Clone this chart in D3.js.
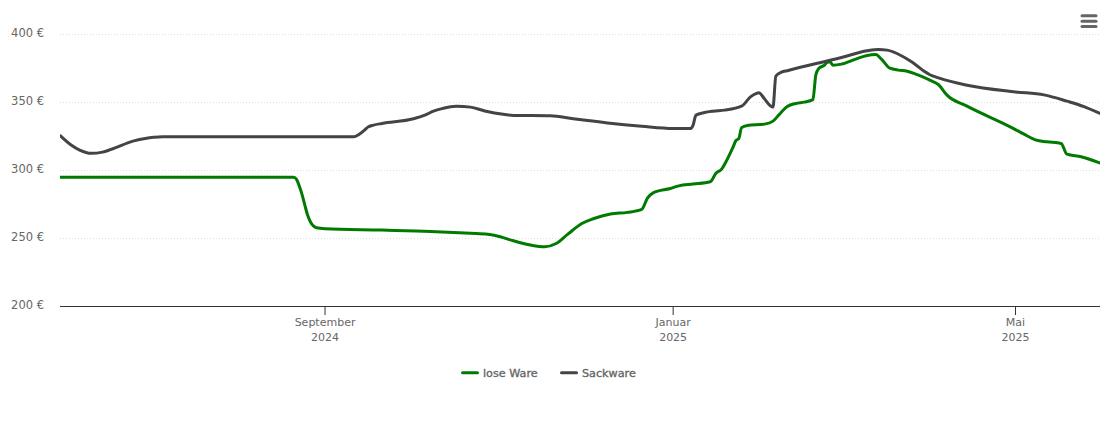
<!DOCTYPE html>
<html>
<head>
<meta charset="utf-8">
<title>Preisentwicklung</title>
<script src="https://d3js.org/d3.v7.min.js"></script>
<style>
    html, body { margin: 0; padding: 0; background: #fff; }
    text { font-family: "DejaVu Sans", sans-serif; font-size: 11px; fill: #666; }
    .yaxis text { font-size: 11.5px; }
    .legend text { font-size: 11.2px; stroke: #666; stroke-width: 0.35px; }
    .grid line { stroke: #dedede; stroke-width: 1; stroke-dasharray: 1 2; }
</style>
</head>
<body>
<svg id="chart" width="1110" height="423"></svg>
<script>
var yTicks = [200, 250, 300, 350, 400]
var xTicks = ["2024-09-01", "2025-01-01", "2025-05-01"]
var xTickLabels = [["September", "2024"], ["Januar", "2025"], ["Mai", "2025"]]
var seriesNames = ["lose Ware", "Sackware"]

var loseDates = ["2024-05-31","2024-08-21","2024-08-22","2024-08-23","2024-08-24","2024-08-25","2024-08-26","2024-08-27","2024-08-28","2024-08-29","2024-09-01","2024-09-21","2024-10-08","2024-10-22","2024-10-28","2024-10-31","2024-11-06","2024-11-12","2024-11-17","2024-11-21","2024-11-25","2024-11-30","2024-12-04","2024-12-10","2024-12-16","2024-12-21","2024-12-23","2024-12-25","2024-12-31","2025-01-03","2025-01-08","2025-01-14","2025-01-16","2025-01-18","2025-01-20","2025-01-22","2025-01-23","2025-01-24","2025-01-25","2025-01-27","2025-02-02","2025-02-05","2025-02-07","2025-02-10","2025-02-13","2025-02-16","2025-02-19","2025-02-20","2025-02-21","2025-02-23","2025-02-24","2025-02-25","2025-02-26","2025-03-01","2025-03-06","2025-03-10","2025-03-13","2025-03-15","2025-03-18","2025-03-21","2025-03-24","2025-03-28","2025-04-01","2025-04-04","2025-04-07","2025-04-14","2025-04-30","2025-05-04","2025-05-08","2025-05-12","2025-05-17","2025-05-19","2025-05-24","2025-05-31"]
var loseValues = [295,295,293.5,288.4,281.9,273.8,266.5,261.7,259.1,257.9,257.2,256.2,255.2,253.8,253.1,252,248.3,245.2,243.9,246.3,253,261,264.5,268,269.2,271.4,279.7,283.6,286.8,288.7,290,291.7,297.9,301,308.4,317.2,322,323.4,331.5,333.1,334.1,336.3,340.7,347,349.3,350.3,352.1,370.1,374.9,377.4,379.4,379.9,377.4,378.2,381.9,384.6,385.3,381.9,375.2,373.8,373,370.1,366.4,363.1,355.4,347.3,331.2,326.7,322.5,321.1,319.9,312,310.1,305.2]

var sackDates = ["2024-05-31","2024-06-04","2024-06-07","2024-06-11","2024-06-15","2024-06-18","2024-06-26","2024-06-30","2024-07-03","2024-07-06","2024-09-11","2024-09-13","2024-09-15","2024-09-16","2024-09-18","2024-09-21","2024-10-02","2024-10-06","2024-10-09","2024-10-12","2024-10-17","2024-10-22","2024-10-27","2024-11-03","2024-11-06","2024-11-19","2024-11-27","2024-12-09","2024-12-21","2025-01-01","2025-01-07","2025-01-08","2025-01-09","2025-01-12","2025-01-15","2025-01-19","2025-01-25","2025-01-28","2025-01-30","2025-01-31","2025-02-02","2025-02-04","2025-02-05","2025-02-06","2025-02-08","2025-02-10","2025-03-01","2025-03-10","2025-03-14","2025-03-17","2025-03-22","2025-03-25","2025-03-27","2025-03-30","2025-04-01","2025-04-04","2025-04-14","2025-05-01","2025-05-11","2025-05-19","2025-05-25","2025-05-31"]
var sackValues = [326,318.7,315,312.6,313.5,315.5,321.8,323.6,324.4,324.8,324.8,326.7,330,331.9,333.4,334.6,338,340.7,343.6,345.5,347.3,346.6,343.8,341.2,340.5,340.2,338,335,332.6,330.9,330.8,333.4,340.7,342.6,343.6,344.4,347.3,353.9,356.5,357.1,352.8,347.7,346.6,369.4,372.3,373.4,383.1,388,389,388.5,384.4,380.7,377.8,372.9,370.4,368.1,362.7,357.8,355.6,351,347,341.6]

var parseDay = d3.utcParse("%Y-%m-%d")
var svg = d3.select("#chart")

var plotLeft = 60, plotRight = 1100

// x ist so gelegt, dass die Monatsticks auf den Strichen im Bild sitzen
var x = d3.scaleUtc()
    .domain([parseDay("2024-05-31"), parseDay("2025-05-31")])
    .range([59.7, 1101.1])
var y = d3.scaleLinear()
    .domain([200, 400])
    .range([306.5, 34.5])

// Gitterlinien
svg.append("g")
    .attr("class", "grid")
    .selectAll("line")
    .data(yTicks.slice(1))
    .enter()
    .append("line")
    .attr("x1", plotLeft)
    .attr("x2", plotRight)
    .attr("y1", function(d) { return y(d) })
    .attr("y2", function(d) { return y(d) })

// y Achse
var yAxis = svg.append("g")
    .attr("class", "yaxis")
    .attr("transform", "translate(" + plotLeft + ",0)")
    .call(d3.axisLeft(y).tickValues(yTicks).tickSize(0).tickPadding(16)
        .tickFormat(function(d) { return d + " €" }))
yAxis.select(".domain").remove()
yAxis.selectAll("text").attr("dy", "0.2em")

// x Achse
var xAxis = svg.append("g")
    .attr("transform", "translate(-0.5,306)")
    .call(d3.axisBottom(x).tickValues(xTicks.map(parseDay)).tickSizeOuter(0).tickSizeInner(9)
        .tickFormat(function() { return "" }))
xAxis.select(".domain")
    .attr("d", "M" + (plotLeft + 0.5) + ",0.5H" + (plotRight + 0.5))
    .attr("stroke", "#333")
xAxis.selectAll(".tick line").attr("stroke", "#333")
xAxis.selectAll(".tick").each(function(d, i) {
    var t = d3.select(this).select("text").attr("y", 0).attr("dy", null)
    t.selectAll("tspan")
        .data(xTickLabels[i])
        .enter()
        .append("tspan")
        .attr("x", 0)
        .attr("y", function(l, j) { return 20 + j * 14.7 })
        .text(function(l) { return l })
})

// Linien
var line = d3.line()
    .x(function(d) { return x(d.date) })
    .y(function(d) { return y(d.value) })
    .curve(d3.curveMonotoneX)

function toPoints(dates, values) {
    return dates.map(function(d, i) {
        return { date: parseDay(d), value: values[i] }
    })
}

svg.append("clipPath")
    .attr("id", "plotClip")
    .append("rect")
    .attr("x", plotLeft)
    .attr("y", 0)
    .attr("width", plotRight - plotLeft)
    .attr("height", 320)

var seriesColors = ["#007a00", "#434348"]
var allSeries = [toPoints(loseDates, loseValues), toPoints(sackDates, sackValues)]

svg.append("g")
    .attr("clip-path", "url(#plotClip)")
    .selectAll("path")
    .data(allSeries)
    .enter()
    .append("path")
    .attr("d", line)
    .attr("fill", "none")
    .attr("stroke", function(d, i) { return seriesColors[i] })
    .attr("stroke-width", 3)
    .attr("stroke-linejoin", "round")

// Legende
var legendX = [462.5, 561.5]
var legend = svg.append("g").attr("class", "legend")
    .selectAll("g")
    .data(seriesNames)
    .enter()
    .append("g")
    .attr("transform", function(d, i) { return "translate(" + legendX[i] + ",372.7)" })
legend.append("line")
    .attr("x2", 15)
    .attr("stroke", function(d, i) { return seriesColors[i] })
    .attr("stroke-width", 3)
    .attr("stroke-linecap", "round")
legend.append("text")
    .attr("x", 20.5)
    .attr("dy", "0.35em")
    .text(function(d) { return d })

// Menü Symbol
svg.append("g")
    .selectAll("line")
    .data([15.7, 21.2, 26.5])
    .enter()
    .append("line")
    .attr("x1", 1082)
    .attr("x2", 1096)
    .attr("y1", function(d) { return d })
    .attr("y2", function(d) { return d })
    .attr("stroke", "#666")
    .attr("stroke-width", 3)
    .attr("stroke-linecap", "round")
</script>
</body>
</html>
